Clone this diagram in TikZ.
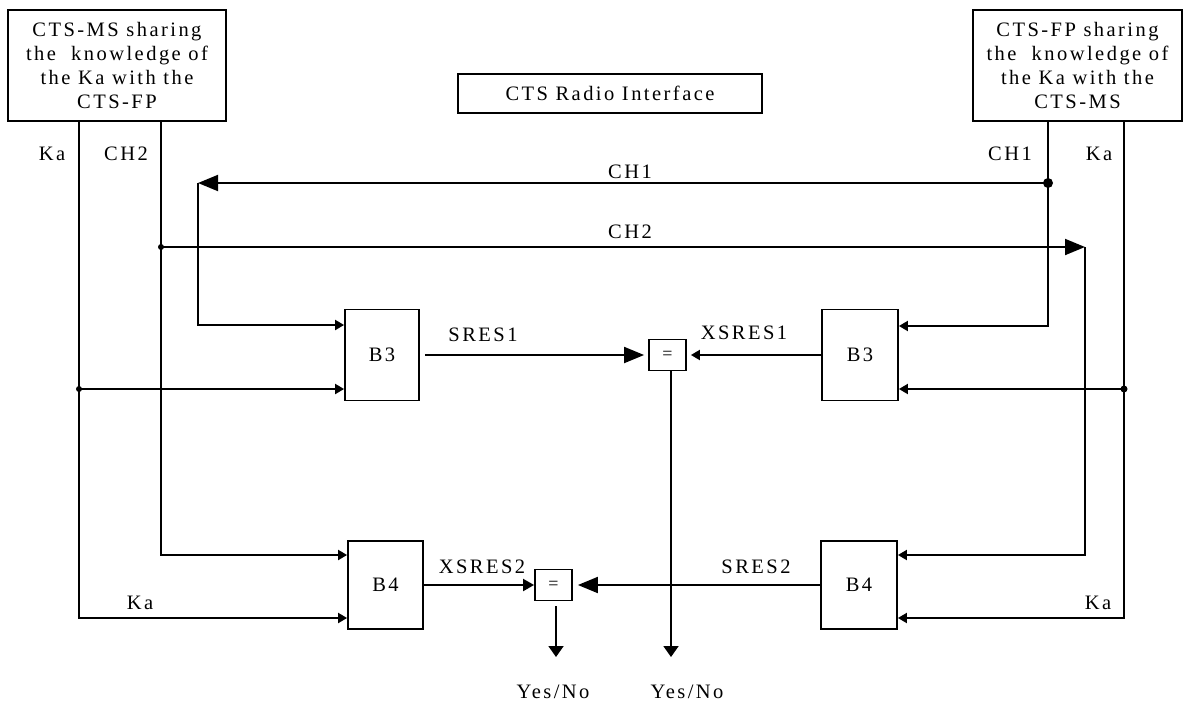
\documentclass[tikz,border=0pt]{standalone}
\usepackage{fontspec}
\usetikzlibrary{arrows.meta}
\newfontfamily\diafont{Liberation Serif}[LetterSpace=12]

\begin{document}
\begin{tikzpicture}[x=1pt,y=-1pt,line width=1.9pt,
  box/.style={draw,line width=1.8pt,inner sep=0pt,align=center,font=\diafont\fontsize{20.5}{24}\selectfont},
  eqbox/.style={draw,line width=1.8pt,inner sep=0pt,minimum width=37pt,minimum height=31pt,font=\diafont\fontsize{18}{20}\selectfont},
  lbl/.style={inner sep=0pt,font=\diafont\fontsize{20.5}{24}\selectfont},
  smallarr/.style={-{Triangle[length=9pt,width=10pt]}},
  midarr/.style={-{Triangle[length=11pt,width=12pt]}},
  bigarr/.style={-{Triangle[length=20pt,width=16pt]}},
  downarr/.style={-{Triangle[length=11pt,width=15pt]}}]
\path[use as bounding box] (0,0) rectangle (1184,702);

\node[box,minimum width=218pt,minimum height=111pt] (msbox) at (117,65.5) {CTS-MS sharing\\the\ \ knowledge of\\the Ka with the\\CTS-FP};
\node[box,minimum width=209pt,minimum height=111pt] (fpbox) at (1077.5,65.5) {CTS-FP sharing\\the\ \ knowledge of\\the Ka with the\\CTS-MS};
\node[box,minimum width=304pt,minimum height=39pt] (radio) at (610,93.5) {CTS Radio Interface};
\node[box,minimum width=74pt,minimum height=91pt] (b3l) at (382,355) {B3};
\node[box,minimum width=76pt,minimum height=91pt] (b3r) at (860,355) {B3};
\node[box,minimum width=75pt,minimum height=88pt] (b4l) at (385.5,585) {B4};
\node[box,minimum width=76pt,minimum height=88pt] (b4r) at (859,585) {B4};
\node[eqbox] (eq1) at (667.5,355) {=};
\node[eqbox] (eq2) at (553.5,585) {=};

% left side: Ka and CH2
\coordinate (kal) at (79,618);
\coordinate (kaldot) at (79,389);
\coordinate (ch2l) at (161,555);
\coordinate (ch2dot) at (161,247);
\coordinate (ch2end) at (1085,247);
\coordinate (ch2r) at (1085,555);
\draw[smallarr] (msbox.south -| kal) -- (kal) -- (b4l.west |- kal);
\fill (kaldot) circle[radius=3pt];
\draw[smallarr] (kaldot) -- (b3l.west |- kaldot);
\draw[smallarr] (msbox.south -| ch2l) -- (ch2l) -- (b4l.west |- ch2l);
\fill (ch2dot) circle[radius=3pt];
\draw[bigarr] (ch2dot) -- (ch2end);
\draw[smallarr] (ch2end) -- (ch2r) -- (b4r.east |- ch2r);

% right side: CH1 and Ka
\coordinate (ch1r) at (1048,326);
\coordinate (ch1dot) at (1048,183);
\coordinate (ch1end) at (198,183);
\coordinate (ch1l) at (198,325);
\coordinate (kar) at (1124,618);
\coordinate (kardot) at (1124,389);
\draw[smallarr] (fpbox.south -| ch1r) -- (ch1r) -- (b3r.east |- ch1r);
\fill (ch1dot) circle[radius=5pt];
\draw[bigarr] (ch1dot) -- (ch1end);
\draw[smallarr] (ch1end) -- (ch1l) -- (b3l.west |- ch1l);
\draw[smallarr] (fpbox.south -| kar) -- (kar) -- (b4r.east |- kar);
\fill (kardot) circle[radius=3.5pt];
\draw[smallarr] (kardot) -- (b3r.east |- kardot);

% comparisons
\coordinate (yn1) at (671,657);
\coordinate (yn2) at (556,657);
\draw[bigarr,shorten <=5pt,shorten >=4pt] (b3l.east) -- (eq1.west);
\draw[smallarr,shorten >=4pt] (b3r.west) -- (eq1.east);
\draw[downarr] (eq1.south -| yn1) -- (yn1);
\draw[midarr] (b4l.east) -- (eq2.west);
\draw[bigarr,shorten >=5pt] (b4r.west) -- (eq2.east);
\draw[downarr,shorten <=5pt] (eq2.south -| yn2) -- (yn2);

% labels
\node[lbl] (kalbl) at (52,154) {Ka};
\node[lbl] (ch2lbl) at (126,154) {CH2};
\node[lbl] (ch1lbl) at (1010,154) {CH1};
\node[lbl] (karlbl) at (1099,154) {Ka};
\node[lbl] (ch1mid) at (630,172) {CH1};
\node[lbl] (ch2mid) at (630,232) {CH2};
\node[lbl] (sres1) at (483,335) {SRES1};
\node[lbl] (xsres1) at (744,333) {XSRES1};
\node[lbl] (xsres2) at (482,567) {XSRES2};
\node[lbl] (sres2) at (756,567) {SRES2};
\node[lbl] (kabl) at (140,603) {Ka};
\node[lbl] (kabr) at (1098,603) {Ka};
\node[lbl] (yesno2) at (553,692) {Yes/No};
\node[lbl] (yesno1) at (687,692) {Yes/No};
\end{tikzpicture}
\end{document}
